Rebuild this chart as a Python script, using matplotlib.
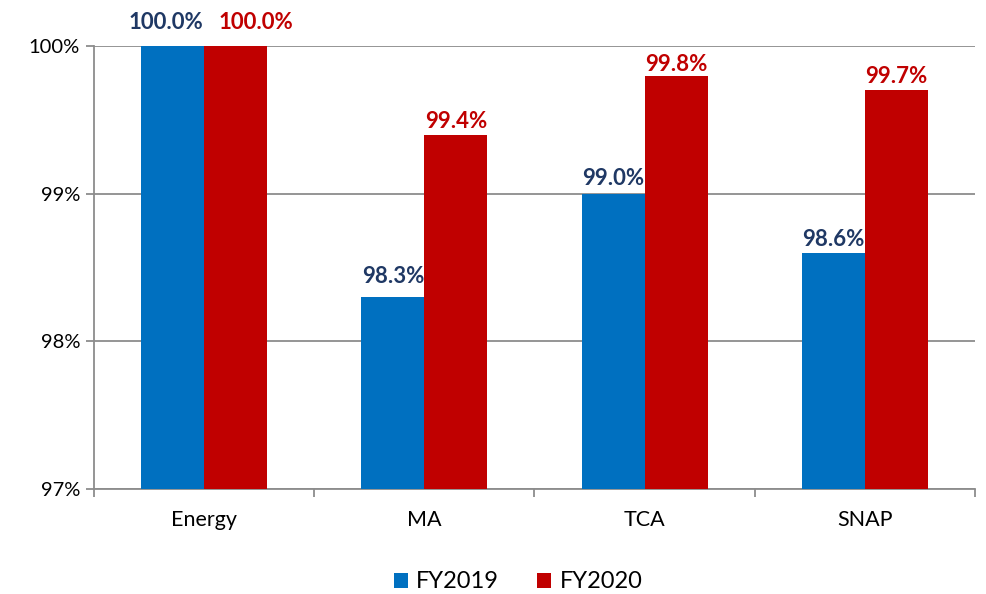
import matplotlib
matplotlib.use("Agg")
import matplotlib.pyplot as plt
import numpy as np
from matplotlib.ticker import FuncFormatter, MultipleLocator

categories = ["Energy", "MA", "TCA", "SNAP"]
fy2019 = [100.0, 98.3, 99.0, 98.6]
fy2020 = [100.0, 99.4, 99.8, 99.7]
series_names = ["FY2019", "FY2020"]

# label nudges (points): (dx, dy) per category, to mimic the reference placement
nudge_2019 = [(-5, 12), (0, 10), (0, 6.5), (0, 4.5)]
nudge_2020 = [(14.5, 12), (0, 5), (0, 3.5), (0, 5)]

plt.rcParams['font.family'] = ['Lato', 'DejaVu Sans']

fig = plt.figure(figsize=(9.87, 5.94), dpi=100)
ax = fig.add_axes([0.0952, 0.1768, 0.8926, 0.7458])

x = np.arange(len(categories))
w = 0.286
blue = "#0070C0"
red = "#C00000"
b1 = ax.bar(x - w/2, fy2019, w, color=blue, label=series_names[0], zorder=3)
b2 = ax.bar(x + w/2, fy2020, w, color=red, label=series_names[1], zorder=3)

for xi, v, (dx, dy) in zip(x, fy2019, nudge_2019):
    ax.annotate(f"{v:.1f}%", (xi - w/2, v), xytext=(dx, dy), textcoords="offset points",
                ha="center", va="baseline", fontsize=16, fontweight="bold",
                color="#1F3864", zorder=4, annotation_clip=False)
for xi, v, (dx, dy) in zip(x, fy2020, nudge_2020):
    ax.annotate(f"{v:.1f}%", (xi + w/2, v), xytext=(dx, dy), textcoords="offset points",
                ha="center", va="baseline", fontsize=16, fontweight="bold",
                color=red, zorder=4, annotation_clip=False)

ax.set_ylim(97, 100)
ax.set_xlim(-0.5, 3.5)
ax.yaxis.set_major_locator(MultipleLocator(1))
ax.yaxis.set_major_formatter(FuncFormatter(lambda v, p: f"{v:.0f}%"))
ax.grid(axis="y", color="#8C8C8C", linewidth=1.3, zorder=0)
ax.set_axisbelow(True)

ax.set_xticks(x)
ax.set_xticklabels(categories)
ax.set_xticks(np.arange(-0.5, 4.0, 1.0), minor=True)
ax.tick_params(axis="x", which="major", length=0, pad=15, labelsize=15.5)
ax.tick_params(axis="x", which="minor", length=6, width=1.3, color="#8C8C8C", direction="out")
ax.tick_params(axis="y", length=6, width=1.3, color="#8C8C8C", direction="out", labelsize=14.5, pad=4)

for s in ["top", "right"]:
    ax.spines[s].set_visible(False)
for s in ["left", "bottom"]:
    ax.spines[s].set_color("#8C8C8C")
    ax.spines[s].set_linewidth(1.3)

leg = fig.legend(handles=[b1, b2], labels=series_names, loc="lower center",
                 bbox_to_anchor=(0.525, -0.033), ncol=2, frameon=False, fontsize=17,
                 handlelength=0.6, handleheight=0.6, handletextpad=0.35, columnspacing=1.6)

fig.savefig("out.png", dpi=100)
